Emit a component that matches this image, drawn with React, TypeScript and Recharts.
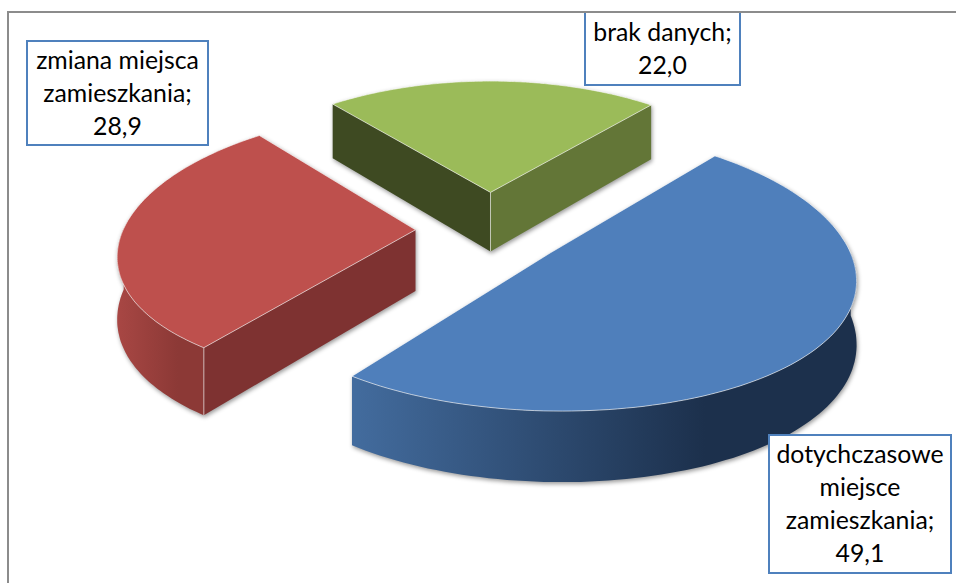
import React from 'react';
import { PieChart, Pie } from 'recharts';

const categories = ['dotychczasowe miejsce zamieszkania', 'zmiana miejsca zamieszkania', 'brak danych'];
const shares = [49.1, 28.9, 22.0];
const labelLines = [
  ['dotychczasowe', 'miejsce', 'zamieszkania;'],
  ['zmiana miejsca', 'zamieszkania;'],
  ['brak danych;'],
];
const topColors = ['#4f7fbb', '#be504d', '#9bbb59'];
const wallFrom = ['#436c9e', '#a84744', '#5a6e33'];
const wallTo = ['#1c304c', '#8c3936', '#5a6e33'];
const startWallColors = ['#1f3350', '#7e3231', '#3e4a22'];
const endWallColors = ['#1f3350', '#7e3231', '#637637'];
// label boxes: left, top, right, bottom, first baseline
const labelBoxes = [
  [769, 435, 951, 573, 463],
  [27, 41, 208, 145, 69],
  [585, 12, 740, 85, 41],
];

const data = categories.map((name, i) => ({ name, value: shares[i] }));

const WIDTH = 956;
const HEIGHT = 583;
const TILT = 0.455;
const PERSPECTIVE_X = 0.16;
const PERSPECTIVE_Y = 0.12;
const EXPLODE_X = 0.255;
const EXPLODE_Y = 0.285;
const DEPTH = 61;
const RAD = Math.PI / 180;

const Slice3D = (props: any) => {
  const { cx, cy, outerRadius, startAngle, endAngle, payload } = props;
  const index = categories.indexOf(payload.name);
  // recharts angles are counter-clockwise from east, turn them into clockwise from the top
  const from = 90 - startAngle;
  const to = 90 - endAngle;
  const mid = (from + to) / 2;
  const offX = Math.sin(mid * RAD) * EXPLODE_X;
  const offY = -Math.cos(mid * RAD) * EXPLODE_Y;

  const project = (x: number, y: number, z: number) => {
    const fx = 1 / (1 - PERSPECTIVE_X * y);
    const fy = 1 / (1 - PERSPECTIVE_Y * y);
    return [cx + outerRadius * x * fx, cy + outerRadius * TILT * y * fy + z * fy];
  };
  const rim = (deg: number, z: number) =>
    project(offX + Math.sin(deg * RAD), offY - Math.cos(deg * RAD), z);
  const path = (pts: number[][]) =>
    'M' + pts.map((p) => p[0].toFixed(1) + ',' + p[1].toFixed(1)).join('L') + 'Z';

  const steps = 120;
  const angles: number[] = [];
  for (let i = 0; i <= steps; i++) angles.push(from + ((to - from) * i) / steps);
  // only the part of the rim that faces the viewer gets a wall
  const frontAngles = angles.filter((a) => Math.cos(a * RAD) < 0.02);

  const apexTop = project(offX, offY, 0);
  const apexBottom = project(offX, offY, DEPTH);
  const topArc = angles.map((a) => rim(a, 0));
  const showStart = Math.sin(from * RAD) < 0;
  const showEnd = Math.sin(to * RAD) > 0;
  const gradId = 'wall' + index;
  const edge = 'rgba(255,255,255,0.6)';
  const startTop = rim(from, 0);
  const startBottom = rim(from, DEPTH);

  return (
    <g style={{ filter: 'drop-shadow(1px 2px 2px rgba(0,0,0,0.4))' }}>
      <defs>
        <linearGradient id={gradId} x1="0" x2="1" y1="0" y2="0">
          <stop offset="0%" stopColor={wallFrom[index]} />
          <stop offset="70%" stopColor={wallTo[index]} />
          <stop offset="100%" stopColor={wallTo[index]} />
        </linearGradient>
      </defs>
      {frontAngles.length > 1 && (
        <path
          d={path([...frontAngles.map((a) => rim(a, 0)), ...[...frontAngles].reverse().map((a) => rim(a, DEPTH))])}
          fill={`url(#${gradId})`}
        />
      )}
      {showStart && <path d={path([startTop, apexTop, apexBottom, startBottom])} fill={startWallColors[index]} />}
      {showEnd && <path d={path([rim(to, 0), apexTop, apexBottom, rim(to, DEPTH)])} fill={endWallColors[index]} />}
      {showStart && showEnd && (
        <line x1={apexTop[0]} y1={apexTop[1]} x2={apexBottom[0]} y2={apexBottom[1]} stroke={edge} strokeWidth={1} />
      )}
      {showStart && frontAngles.length > 1 && (
        <line x1={startTop[0]} y1={startTop[1]} x2={startBottom[0]} y2={startBottom[1]} stroke={edge} strokeWidth={1} />
      )}
      <path d={path([apexTop, ...topArc])} fill={topColors[index]} stroke={edge} strokeWidth={1} />
    </g>
  );
};

const BoxLabel = (props: any) => {
  const { index, value } = props;
  const [left, top, right, bottom, baseline] = labelBoxes[index];
  const lines = [...labelLines[index], value.toFixed(1).replace('.', ',')];
  return (
    <g>
      <rect x={left} y={top} width={right - left} height={bottom - top} fill="#ffffff" stroke="#4f81bd" strokeWidth={2} />
      <text textAnchor="middle" fontFamily="Lato, 'Open Sans', sans-serif" fontSize={24.8} fill="#000000">
        {lines.map((line, i) => (
          <tspan key={line} x={(left + right) / 2} y={baseline + i * 33}>
            {line}
          </tspan>
        ))}
      </text>
    </g>
  );
};

export default function App() {
  return (
    <div style={{ position: 'absolute', left: 0, top: 0, width: WIDTH, height: HEIGHT, overflow: 'hidden', background: '#ffffff' }}>
      <PieChart width={WIDTH} height={HEIGHT} margin={{ top: 0, right: 0, bottom: 0, left: 0 }}>
        <Pie
          data={data}
          dataKey="value"
          nameKey="name"
          cx={490}
          cy={229}
          outerRadius={292}
          startAngle={50}
          endAngle={-310}
          stroke="none"
          shape={Slice3D}
          label={BoxLabel}
          labelLine={false}
          isAnimationActive={false}
        />
      </PieChart>
      <div style={{ position: 'absolute', left: 7, top: 11, right: 0, bottom: 0, borderLeft: '2px solid #8c8c8c', borderTop: '2px solid #8c8c8c', pointerEvents: 'none' }} />
    </div>
  );
}
